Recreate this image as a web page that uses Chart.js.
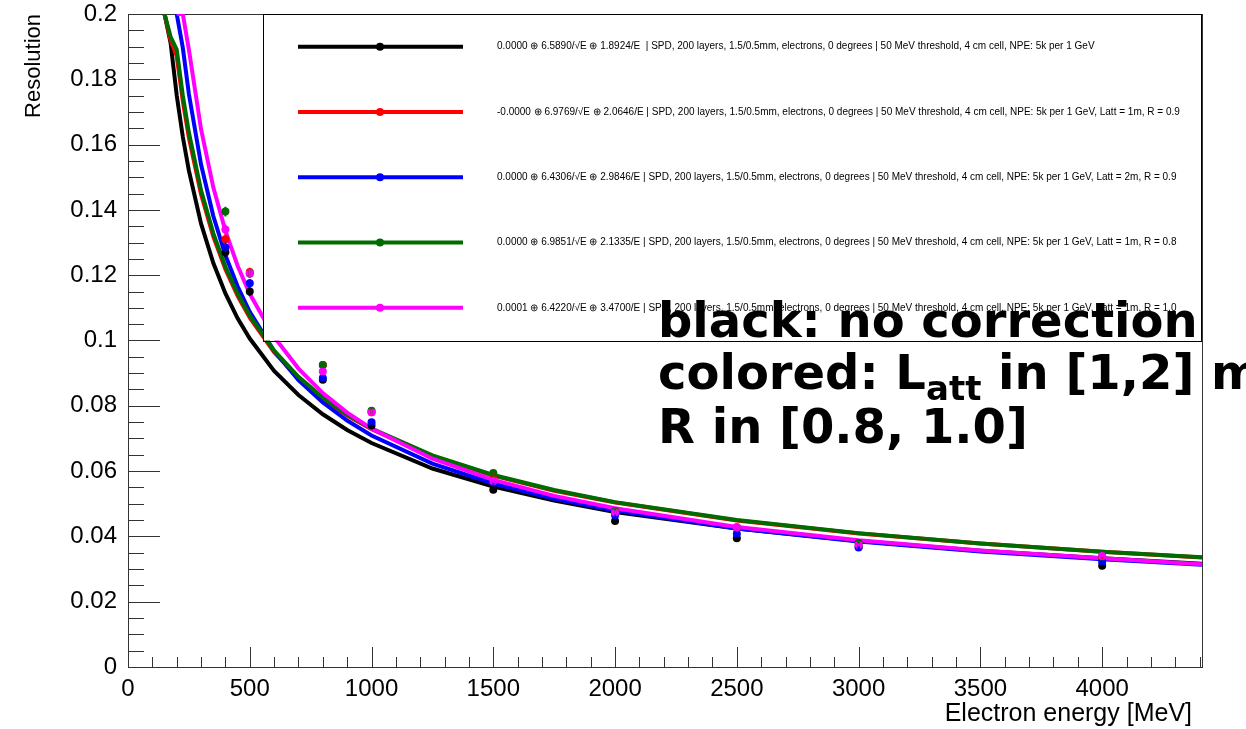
<!DOCTYPE html>
<html>
<head>
<meta charset="utf-8">
<script src="https://cdn.jsdelivr.net/npm/chart.js@4.4.0/dist/chart.umd.min.js"></script>
<style>
html,body{margin:0;padding:0;background:#fff;}
#wrap{width:1246px;height:729px;position:relative;}
</style>
</head>
<body>
<div id="wrap"><canvas id="c" width="1246" height="729"></canvas></div>
<script>
// ---------------- DATA ----------------
const xTickValues = [0, 500, 1000, 1500, 2000, 2500, 3000, 3500, 4000];
const xTickLabels = ['0', '500', '1000', '1500', '2000', '2500', '3000', '3500', '4000'];
const yTickValues = [0, 0.02, 0.04, 0.06, 0.08, 0.1, 0.12, 0.14, 0.16, 0.18, 0.2];
const yTickLabels = ['0', '0.02', '0.04', '0.06', '0.08', '0.1', '0.12', '0.14', '0.16', '0.18', '0.2'];

// measured points (energy in MeV)
const energies = [400, 500, 800, 1000, 1500, 2000, 2500, 3000, 4000];
const ptsBlack   = [0.1270, 0.1150, 0.0880, 0.0740, 0.0543, 0.0447, 0.0394, 0.0368, 0.0310];
const ptsRed     = [0.1310, 0.1210, 0.0925, 0.0780, 0.0590, 0.0475, 0.0425, 0.0378, 0.0335];
const ptsBlue    = [0.1285, 0.1175, 0.0885, 0.0750, 0.0565, 0.0465, 0.0408, 0.0366, 0.0322];
const ptsGreen   = [0.1395, 0.1205, 0.0925, 0.0785, 0.0594, 0.0478, 0.0428, 0.0380, 0.0338];
const ptsMagenta = [0.1340, 0.1205, 0.0905, 0.0780, 0.0570, 0.0473, 0.0428, 0.0374, 0.0340];
const ptsErrors  = [0.0015, 0.0013, 0.0010, 0.0009, 0.0007, 0.0006, 0.0005, 0.0005, 0.0004];

// fitted curves
const curveX = [150, 175, 200, 225, 250, 300, 350, 400, 450, 500, 600, 700, 800, 900, 1000, 1250, 1500, 1750, 2000, 2500, 3000, 3500, 4000, 4410];
const fitBlack   = [0.2000, 0.1911, 0.1751, 0.1624, 0.1520, 0.1358, 0.1238, 0.1144, 0.1068, 0.1006, 0.0907, 0.0833, 0.0774, 0.0726, 0.0686, 0.0608, 0.0553, 0.0510, 0.0475, 0.0424, 0.0386, 0.0356, 0.0333, 0.0316];
const fitRed     = [0.2000, 0.1920, 0.1871, 0.1734, 0.1621, 0.1448, 0.1319, 0.1218, 0.1137, 0.1070, 0.0964, 0.0885, 0.0822, 0.0770, 0.0728, 0.0646, 0.0586, 0.0540, 0.0504, 0.0449, 0.0409, 0.0378, 0.0353, 0.0335];
const fitBlue    = [null, null, 0.2000, 0.1897, 0.1755, 0.1539, 0.1382, 0.1261, 0.1166, 0.1088, 0.0968, 0.0879, 0.0810, 0.0755, 0.0709, 0.0623, 0.0562, 0.0515, 0.0479, 0.0424, 0.0384, 0.0354, 0.0330, 0.0313];
const fitGreen   = [0.2000, 0.1930, 0.1891, 0.1751, 0.1637, 0.1460, 0.1329, 0.1226, 0.1144, 0.1076, 0.0969, 0.0889, 0.0825, 0.0773, 0.0730, 0.0648, 0.0588, 0.0542, 0.0505, 0.0450, 0.0410, 0.0378, 0.0353, 0.0336];
const fitMagenta = [null, null, 0.2000, 0.2000, 0.1891, 0.1647, 0.1470, 0.1336, 0.1229, 0.1143, 0.1011, 0.0914, 0.0839, 0.0779, 0.0730, 0.0638, 0.0573, 0.0524, 0.0486, 0.0429, 0.0388, 0.0357, 0.0333, 0.0315];

const legendLabels = [
  '0.0000 \u2295 6.5890/\u221AE \u2295 1.8924/E  | SPD, 200 layers, 1.5/0.5mm, electrons, 0 degrees | 50 MeV threshold, 4 cm cell, NPE: 5k per 1 GeV',
  '-0.0000 \u2295 6.9769/\u221AE \u2295 2.0646/E | SPD, 200 layers, 1.5/0.5mm, electrons, 0 degrees | 50 MeV threshold, 4 cm cell, NPE: 5k per 1 GeV, Latt = 1m, R = 0.9',
  '0.0000 \u2295 6.4306/\u221AE \u2295 2.9846/E | SPD, 200 layers, 1.5/0.5mm, electrons, 0 degrees | 50 MeV threshold, 4 cm cell, NPE: 5k per 1 GeV, Latt = 2m, R = 0.9',
  '0.0000 \u2295 6.9851/\u221AE \u2295 2.1335/E | SPD, 200 layers, 1.5/0.5mm, electrons, 0 degrees | 50 MeV threshold, 4 cm cell, NPE: 5k per 1 GeV, Latt = 1m, R = 0.8',
  '0.0001 \u2295 6.4220/\u221AE \u2295 3.4700/E | SPD, 200 layers, 1.5/0.5mm, electrons, 0 degrees | 50 MeV threshold, 4 cm cell, NPE: 5k per 1 GeV, Latt = 1m, R = 1.0'
];
const xTitle = 'Electron energy [MeV]';
const yTitle = 'Resolution';

// ---------------- STYLE ----------------
const colors = ['#000000', '#ff0000', '#0000ff', '#006c00', '#ff00ff'];
const fits = [fitBlack, fitRed, fitBlue, fitGreen, fitMagenta];
const pts = [ptsBlack, ptsRed, ptsBlue, ptsGreen, ptsMagenta];

const datasets = [];
fits.forEach((f, i) => {
  datasets.push({
    label: 'fit' + i,
    data: curveX.map((x, k) => ({x: x, y: f[k]})),
    showLine: true, pointRadius: 0, borderColor: colors[i], borderWidth: 4,
    backgroundColor: colors[i], tension: 0, order: 20 - i, spanGaps: false
  });
});
pts.forEach((p, i) => {
  datasets.push({
    label: 'pts' + i,
    data: energies.map((x, k) => ({x: x, y: p[k]})),
    showLine: false, pointRadius: 4, pointBorderWidth: 0,
    backgroundColor: colors[i], borderColor: colors[i], order: 10 - i
  });
});

const FONT = '"Liberation Sans", Arial, sans-serif';

const framePlugin = {
  id: 'frame',
  beforeDatasetsDraw(chart) {
    const {ctx, chartArea: a, scales: {x, y}} = chart;
    ctx.save();
    ctx.strokeStyle = '#333';
    ctx.lineWidth = 1;
    ctx.beginPath();
    for (let v = 0; v <= 0.2000001; v += 0.005) {
      const py = Math.round(y.getPixelForValue(v)) + 0.5;
      const major = Math.abs(v / 0.02 - Math.round(v / 0.02)) < 1e-6;
      ctx.moveTo(a.left, py); ctx.lineTo(a.left + (major ? 32 : 16), py);
    }
    for (let v = 0; v <= 4410; v += 100) {
      const px = Math.round(x.getPixelForValue(v)) + 0.5;
      const major = v % 500 === 0;
      ctx.moveTo(px, a.bottom); ctx.lineTo(px, a.bottom - (major ? 20 : 10));
    }
    ctx.stroke();
    ctx.strokeRect(Math.round(a.left) + 0.5, Math.round(a.top) + 0.5, Math.round(a.right - a.left), Math.round(a.bottom - a.top));
    ctx.fillStyle = '#000';
    ctx.font = '25px ' + FONT;
    ctx.textAlign = 'right';
    ctx.textBaseline = 'alphabetic';
    ctx.fillText(xTitle, a.right - 10, 721);
    ctx.save();
    ctx.translate(40, a.top);
    ctx.rotate(-Math.PI / 2);
    ctx.font = '22px ' + FONT;
    ctx.textAlign = 'right';
    ctx.fillText(yTitle, 0, 0);
    ctx.restore();
    ctx.restore();
  }
};

const overlayPlugin = {
  id: 'overlay',
  afterDatasetsDraw(chart) {
    const {ctx, chartArea: a, scales: {x, y}} = chart;
    ctx.save();
    ctx.lineWidth = 2;
    pts.forEach((p, i) => {
      ctx.strokeStyle = colors[i];
      ctx.beginPath();
      energies.forEach((e, k) => {
        const px = x.getPixelForValue(e);
        ctx.moveTo(px, y.getPixelForValue(p[k] - ptsErrors[k]));
        ctx.lineTo(px, y.getPixelForValue(p[k] + ptsErrors[k]));
      });
      ctx.stroke();
    });
    const L = 263, T = a.top, R = a.right, B = y.getPixelForValue(0.1);
    ctx.fillStyle = '#fff';
    ctx.fillRect(L, T, R - L, B - T);
    ctx.strokeStyle = '#000';
    ctx.lineWidth = 1;
    ctx.strokeRect(L + 0.5, Math.round(T) + 0.5, R - L - 1, Math.round(B - T));
    const rowH = (B - T) / legendLabels.length;
    legendLabels.forEach((lab, i) => {
      const cy = T + rowH * (i + 0.5);
      ctx.strokeStyle = colors[i];
      ctx.lineWidth = 4;
      ctx.beginPath(); ctx.moveTo(298, cy); ctx.lineTo(463, cy); ctx.stroke();
      ctx.fillStyle = colors[i];
      ctx.beginPath(); ctx.arc(380, cy, 4, 0, Math.PI * 2); ctx.fill();
      ctx.fillStyle = '#000';
      ctx.font = '10px ' + FONT;
      ctx.textAlign = 'left';
      ctx.textBaseline = 'middle';
      ctx.fillText(lab, 497, cy);
    });
    ctx.fillStyle = '#000';
    ctx.textAlign = 'left';
    ctx.textBaseline = 'alphabetic';
    const big = 'bold 48px "DejaVu Sans"';
    const small = 'bold 34px "DejaVu Sans"';
    ctx.font = big;
    ctx.fillText('black: no correction', 658, 337);
    let cx = 658;
    const s1 = 'colored: L';
    ctx.fillText(s1, cx, 389); cx += ctx.measureText(s1).width;
    ctx.font = small;
    ctx.fillText('att', cx, 400); cx += ctx.measureText('att').width;
    ctx.font = big;
    ctx.fillText(' in [1,2] m', cx, 389);
    ctx.fillText('R in [0.8, 1.0]', 658, 443);
    ctx.restore();
  }
};

new Chart(document.getElementById('c').getContext('2d'), {
  type: 'scatter',
  data: {datasets: datasets},
  options: {
    responsive: false, animation: false, devicePixelRatio: 1,
    layout: {padding: {left: 0, right: 44, top: 14, bottom: 0}},
    plugins: {legend: {display: false}, tooltip: {enabled: false}},
    scales: {
      x: {
        type: 'linear', min: 0, max: 4410,
        grid: {display: false, drawTicks: false, tickLength: 0},
        border: {display: false},
        afterBuildTicks: s => { s.ticks = xTickValues.map(v => ({value: v})); },
        afterFit: s => { s.height = 62; s.paddingLeft = 0; s.paddingRight = 0; },
        ticks: {autoSkip: false, maxRotation: 0, minRotation: 0, padding: 8, color: '#000',
                font: {family: FONT, size: 24}, callback: (v, i) => xTickLabels[i]}
      },
      y: {
        type: 'linear', min: 0, max: 0.2,
        grid: {display: false, drawTicks: false, tickLength: 0},
        border: {display: false},
        afterBuildTicks: s => { s.ticks = yTickValues.map(v => ({value: v})); },
        afterFit: s => { s.width = 128; s.paddingTop = 0; s.paddingBottom = 0; },
        ticks: {autoSkip: false, padding: 11, color: '#000',
                font: {family: FONT, size: 24}, callback: (v, i) => yTickLabels[i]}
      }
    }
  },
  plugins: [framePlugin, overlayPlugin]
});
</script>
</body>
</html>
